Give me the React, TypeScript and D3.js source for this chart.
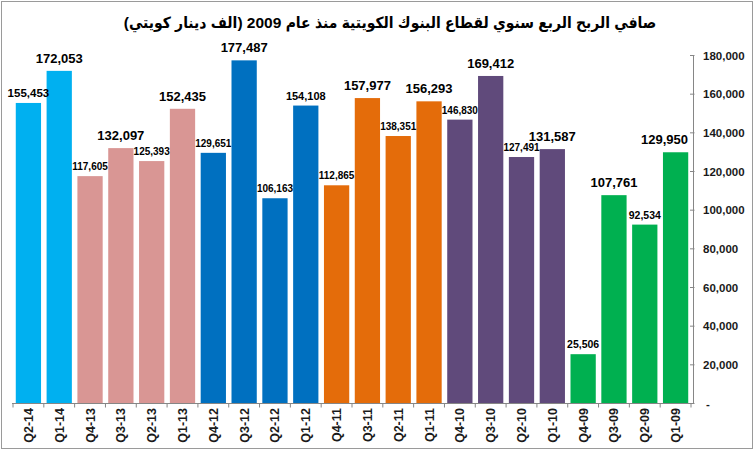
import React from "react";
import * as d3 from "d3";

const title = "صافي الربح الربع سنوي لقطاع البنوك الكويتية منذ عام 2009 (الف دينار كويتي)";

const categories = [
  "Q2-14", "Q1-14",
  "Q4-13", "Q3-13", "Q2-13", "Q1-13",
  "Q4-12", "Q3-12", "Q2-12", "Q1-12",
  "Q4-11", "Q3-11", "Q2-11", "Q1-11",
  "Q4-10", "Q3-10", "Q2-10", "Q1-10",
  "Q4-09", "Q3-09", "Q2-09", "Q1-09",
];

const profits = [
  155453, 172053,
  117605, 132097, 125393, 152435,
  129651, 177487, 106163, 154108,
  112865, 157977, 138351, 156293,
  146830, 169412, 127491, 131587,
  25506, 107761, 92534, 129950,
];

const yTicks = [0, 20000, 40000, 60000, 80000, 100000, 120000, 140000, 160000, 180000];

// style: colour per year, label font size per bar
const yearColors: Record<string, string> = {
  "14": "#00B0F0",
  "13": "#D99694",
  "12": "#0070C0",
  "11": "#E46C0A",
  "10": "#604A7B",
  "09": "#00B050",
};
const labelSizes = [11.5, 13, 10, 13, 10, 13, 10, 13, 10, 11, 10, 13, 10, 13, 10, 13, 10, 13, 10.5, 13, 10.5, 13];

const W = 755;
const H = 450;
const FONT = "'Liberation Sans', Arial, 'DejaVu Sans', sans-serif";
const TITLE_FONT = "'Liberation Sans', Arial, 'DejaVu Sans Condensed', 'DejaVu Sans', sans-serif";

export default function App() {
  const x = d3
    .scaleBand<string>()
    .domain(categories)
    .range([13, 691])
    .paddingInner(0.18)
    .paddingOuter(0.09);
  const y = d3.scaleLinear().domain([0, 180000]).range([403.5, 55.5]);
  const step = x.step();
  const axisX = 693.5;
  const baseY = y(0);
  const fmt = d3.format(",");

  return (
    <svg
      width={W}
      height={H}
      style={{ position: "absolute", left: 0, top: 0, background: "#fff" }}
      fontFamily={FONT}
    >
      <rect x={0} y={0} width={W} height={H} fill="#fff" />
      <rect x={1.5} y={1.5} width={751} height={447} fill="none" stroke="#9a9a9a" strokeWidth={1} />

      <text
        x={390}
        y={28}
        textAnchor="middle"
        fontSize={15.5}
        fontWeight="bold"
        fill="#000"
        fontFamily={TITLE_FONT}
        style={{ direction: "rtl", unicodeBidi: "plaintext" } as any}
        direction="rtl"
      >
        {title}
      </text>

      {/* bars */}
      {categories.map((c, i) => {
        const yr = c.slice(3);
        const v = profits[i];
        return (
          <rect
            key={c}
            x={x(c)!}
            y={y(v)}
            width={x.bandwidth()}
            height={baseY - y(v)}
            fill={yearColors[yr]}
          />
        );
      })}

      {/* x axis */}
      <line x1={12} x2={axisX} y1={baseY} y2={baseY} stroke="#868686" strokeWidth={1} />
      {d3.range(categories.length + 1).map((i) => {
        const bx = x.range()[0] + i * step;
        return <line key={i} x1={bx} x2={bx} y1={baseY} y2={baseY + 4} stroke="#868686" />;
      })}
      {categories.map((c) => {
        const cx = x(c)! + x.bandwidth() / 2;
        return (
          <text
            key={c}
            transform={`translate(${cx + 4.5},408) rotate(-90)`}
            textAnchor="end"
            fontSize={12.5}
            fontWeight="bold"
            fill="#1a1a1a"
          >
            {c}
          </text>
        );
      })}

      {/* y axis (right) */}
      <line x1={axisX} x2={axisX} y1={y(180000)} y2={baseY} stroke="#868686" strokeWidth={1} />
      {yTicks.map((t) => (
        <g key={t}>
          <line x1={axisX - 3.5} x2={axisX + 1} y1={y(t)} y2={y(t)} stroke="#868686" />
          <text
            x={t === 0 ? 706 : 703}
            y={y(t) + 4}
            fontSize={11.5}
            fontWeight="bold"
            fill="#1a1a1a"
          >
            {t === 0 ? "-" : fmt(t)}
          </text>
        </g>
      ))}

      {/* value labels */}
      {categories.map((c, i) => {
        const v = profits[i];
        const fs = labelSizes[i];
        const cx = x(c)! + x.bandwidth() / 2;
        const approxW = fs * 3.62;
        const right = 688;
        const lx = cx + approxW / 2 > right ? right - approxW / 2 : cx;
        const gap = fs >= 12 ? 8 : 6;
        return (
          <text
            key={c}
            x={lx}
            y={y(v) - gap}
            textAnchor="middle"
            fontSize={fs}
            fontWeight="bold"
            fill="#000"
          >
            {fmt(v)}
          </text>
        );
      })}
    </svg>
  );
}
